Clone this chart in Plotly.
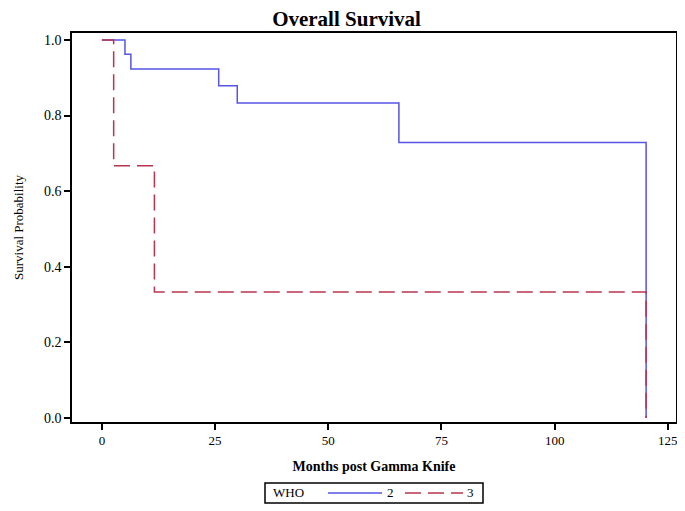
import plotly.graph_objects as go

# Kaplan-Meier step data (months, survival probability)
who2_time = [0, 5.1, 6.4, 25.8, 29.9, 65.6, 120.2, 120.2]
who2_surv = [1.0, 0.962, 0.923, 0.879, 0.833, 0.729, 0.0, 0.0]
who3_time = [0, 2.6, 11.6, 120.2, 120.2]
who3_surv = [1.0, 0.667, 0.333, 0.0, 0.0]

x_ticks = [0, 25, 50, 75, 100, 125]
y_ticks = [0.0, 0.2, 0.4, 0.6, 0.8, 1.0]
y_tick_labels = ["0.0", "0.2", "0.4", "0.6", "0.8", "1.0"]
legend_title = "WHO"
group_names = ["2", "3"]

serif = "Liberation Serif, Times New Roman, serif"
blue = "#5555e6"
red = "#b8344f"
dash = "16px,7px"

# the page body has an 8px margin, so the figure is laid out 8px smaller
OFF = 8
W, H = 685 - OFF, 511 - OFF
L, R, T, B = 72 - OFF, 9, 33 - OFF, 89
pw, ph = W - L - R, H - T - B


def px(x):
    return (x - OFF - L) / pw


def py(y):
    return (H - B - (y - OFF)) / ph


fig = go.Figure()
fig.add_trace(go.Scatter(x=who2_time, y=who2_surv, mode="lines", name=group_names[0],
                         showlegend=False,
                         line=dict(shape="hv", color=blue, width=1.5)))
fig.add_trace(go.Scatter(x=who3_time, y=who3_surv, mode="lines", name=group_names[1],
                         showlegend=False,
                         line=dict(shape="hv", color=red, width=1.5, dash=dash)))

# manual legend (box, title, sample lines, labels)
shapes = [
    dict(type="rect", xref="paper", yref="paper", x0=px(265), x1=px(483), y0=py(503), y1=py(483),
         line=dict(color="black", width=1.5), fillcolor="white"),
    dict(type="line", xref="paper", yref="paper", x0=px(328), x1=px(382), y0=py(493), y1=py(493),
         line=dict(color=blue, width=1.5)),
    dict(type="line", xref="paper", yref="paper", x0=px(405), x1=px(463), y0=py(493), y1=py(493),
         line=dict(color=red, width=1.5, dash=dash)),
]
annotations = [
    dict(text=legend_title, xref="paper", yref="paper", x=px(271), y=py(493), xanchor="left",
         yanchor="middle", showarrow=False, font=dict(family=serif, size=13, color="black")),
    dict(text=group_names[0], xref="paper", yref="paper", x=px(385), y=py(493), xanchor="left",
         yanchor="middle", showarrow=False, font=dict(family=serif, size=13, color="black")),
    dict(text=group_names[1], xref="paper", yref="paper", x=px(465), y=py(493), xanchor="left",
         yanchor="middle", showarrow=False, font=dict(family=serif, size=13, color="black")),
]

fig.update_layout(
    width=W, height=H,
    margin=dict(l=L, r=R, t=T, b=B),
    paper_bgcolor="white", plot_bgcolor="white",
    font=dict(family=serif, color="black", size=13),
    title=dict(text="<b>Overall Survival</b>", x=0.5, xanchor="center",
               y=1 - (19 - OFF) / H, yanchor="middle",
               font=dict(family=serif, size=21, color="black")),
    xaxis=dict(range=[-6.6, 126.8], tickvals=x_ticks, ticks="outside", ticklen=6, tickwidth=1.5,
               tickcolor="black", showline=True, linecolor="black", linewidth=1.5, mirror=True,
               showgrid=False, zeroline=False, automargin=False,
               tickfont=dict(family=serif, size=13),
               title=dict(text="<b>Months post Gamma Knife</b>", font=dict(family=serif, size=14), standoff=14)),
    yaxis=dict(range=[-0.0106, 1.0185], tickvals=y_ticks, ticktext=y_tick_labels, ticks="outside",
               ticklen=6, tickwidth=1.5, tickcolor="black", showline=True, linecolor="black",
               linewidth=1.5, mirror=True, showgrid=False, zeroline=False, automargin=False,
               tickfont=dict(family=serif, size=14),
               title=dict(text="Survival Probability", font=dict(family=serif, size=13), standoff=17)),
    shapes=shapes,
    annotations=annotations,
    showlegend=False,
)

fig.write_html("out.html")
